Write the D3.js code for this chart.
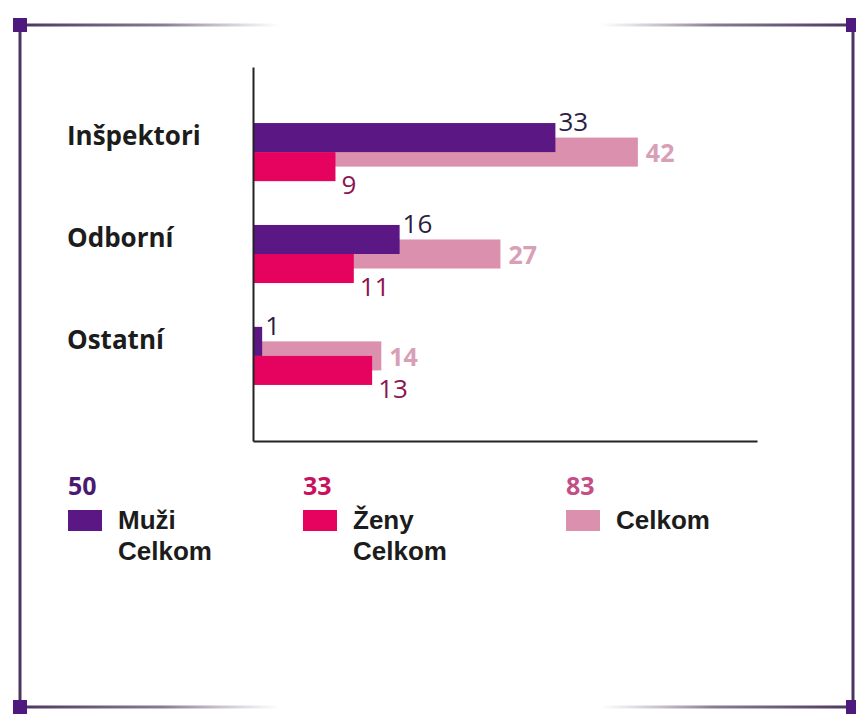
<!DOCTYPE html>
<html>
<head>
<meta charset="utf-8">
<script src="https://cdn.jsdelivr.net/npm/d3@7"></script>
<style>
  html, body { margin: 0; padding: 0; background: #fff; }
  svg { display: block; }
  text { font-family: "Open Sans", "DejaVu Sans", sans-serif; }
  text.caption { font-family: "Liberation Sans", "Open Sans", sans-serif; }
</style>
</head>
<body>
<svg id="chart" width="856" height="714"></svg>
<script>
// Staff by category: men, women and total
const categories = ["Inšpektori", "Odborní", "Ostatní"];
const muzi = [33, 16, 1];
const zeny = [9, 11, 13];
const celkom = [42, 27, 14];
const legendLabels = [["Muži", "Celkom"], ["Ženy", "Celkom"], ["Celkom"]];

const colors = {
  muzi: "#5b1783",
  zeny: "#e5035f",
  celkom: "#db90ae"
};

const svg = d3.select("#chart");

// ---- decorative frame ----
const defs = svg.append("defs");
function fade(id, x1, x2) {
  const g = defs.append("linearGradient").attr("id", id)
    .attr("gradientUnits", "userSpaceOnUse")
    .attr("x1", x1).attr("x2", x2).attr("y1", 0).attr("y2", 0);
  g.append("stop").attr("offset", 0).attr("stop-color", "#4a3560").attr("stop-opacity", 1);
  g.append("stop").attr("offset", 0.55).attr("stop-color", "#6a5a78").attr("stop-opacity", 0.8);
  g.append("stop").attr("offset", 1).attr("stop-color", "#8a7d96").attr("stop-opacity", 0);
}
fade("fadeL", 20, 280);
fade("fadeR", 853, 600);

const frame = svg.append("g");
const fl = 20, fr = 853, ft = 25, fb = 707;
frame.append("line").attr("x1", fl).attr("x2", fl).attr("y1", ft).attr("y2", fb)
  .attr("stroke", "#4a3560").attr("stroke-width", 3);
frame.append("line").attr("x1", fr).attr("x2", fr).attr("y1", ft).attr("y2", fb)
  .attr("stroke", "#4a3560").attr("stroke-width", 3);
[ft, fb].forEach(y => {
  frame.append("rect").attr("x", fl).attr("y", y - 1.5).attr("width", 260).attr("height", 3)
    .attr("fill", "url(#fadeL)");
  frame.append("rect").attr("x", 600).attr("y", y - 1.5).attr("width", fr - 600).attr("height", 3)
    .attr("fill", "url(#fadeR)");
});
[[fl, ft], [fr, ft], [fl, fb], [fr, fb]].forEach(([cx, cy]) => {
  frame.append("rect").attr("x", cx - 7).attr("y", cy - 7).attr("width", 14).attr("height", 14)
    .attr("fill", "#4e1a7e");
});

// ---- scales ----
const x = d3.scaleLinear().domain([0, 55]).range([253, 757]);
const y = d3.scaleBand().domain(categories).range([67, 441])
  .paddingInner(0.43).paddingOuter(0.55);
const bw = y.bandwidth();
const half = bw / 2;

const rows = categories.map((c, i) => ({ cat: c, muzi: muzi[i], zeny: zeny[i], celkom: celkom[i] }));

const plot = svg.append("g");

// total bars sit behind, offset a quarter band down
plot.selectAll("rect.celkom").data(rows).join("rect")
  .attr("class", "celkom")
  .attr("x", x(0)).attr("y", d => y(d.cat) + bw * 0.25)
  .attr("width", d => x(d.celkom) - x(0)).attr("height", half)
  .attr("fill", colors.celkom);

plot.selectAll("rect.muzi").data(rows).join("rect")
  .attr("class", "muzi")
  .attr("x", x(0)).attr("y", d => y(d.cat))
  .attr("width", d => x(d.muzi) - x(0)).attr("height", half)
  .attr("fill", colors.muzi);

plot.selectAll("rect.zeny").data(rows).join("rect")
  .attr("class", "zeny")
  .attr("x", x(0)).attr("y", d => y(d.cat) + half)
  .attr("width", d => x(d.zeny) - x(0)).attr("height", half)
  .attr("fill", colors.zeny);

// value labels
plot.selectAll("text.lm").data(rows).join("text")
  .attr("class", "lm")
  .attr("x", d => x(d.muzi) + 3).attr("y", d => y(d.cat) + 8)
  .attr("font-size", 26).attr("fill", "#2b1d45")
  .text(d => d.muzi);

plot.selectAll("text.lz").data(rows).join("text")
  .attr("class", "lz")
  .attr("x", d => x(d.zeny) + 6).attr("y", d => y(d.cat) + bw + 13)
  .attr("font-size", 26).attr("fill", "#8c1552")
  .text(d => d.zeny);

plot.selectAll("text.lc").data(rows).join("text")
  .attr("class", "lc")
  .attr("x", d => x(d.celkom) + 8).attr("y", d => y(d.cat) + bw * 0.5)
  .attr("dominant-baseline", "central")
  .attr("font-size", 25).attr("font-weight", 700).attr("fill", "#d8a0b6")
  .text(d => d.celkom);

// axes: plain vertical and horizontal lines without ticks
const xAxis = d3.axisBottom(x).tickValues([]).tickSizeOuter(0);
svg.append("g").attr("transform", `translate(0,${y.range()[1]})`).call(xAxis)
  .select(".domain").attr("stroke", "#222").attr("stroke-width", 2);
const yAxis = d3.axisLeft(y).tickValues([]).tickSizeOuter(0);
svg.append("g").attr("transform", `translate(${x(0)},0)`).call(yAxis)
  .select(".domain").attr("stroke", "#222").attr("stroke-width", 2);

// category labels
svg.selectAll("text.cat").data(categories).join("text")
  .attr("class", "cat")
  .attr("x", 67).attr("y", d => y(d) + 22)
  .attr("font-size", 26).attr("font-weight", 700).attr("fill", "#1c1c1c")
  .text(d => d);

// ---- legend ----
const legend = [
  { total: d3.sum(muzi), color: colors.muzi, numColor: "#4b1a70", x: 68, lines: legendLabels[0] },
  { total: d3.sum(zeny), color: colors.zeny, numColor: "#c8125e", x: 303, lines: legendLabels[1] },
  { total: d3.sum(celkom), color: colors.celkom, numColor: "#c34f86", x: 566, lines: legendLabels[2] }
];
const lg = svg.selectAll("g.leg").data(legend).join("g")
  .attr("class", "leg").attr("transform", d => `translate(${d.x},0)`);
lg.append("text").attr("x", 0).attr("y", 495)
  .attr("font-size", 25).attr("font-weight", 700).attr("fill", d => d.numColor)
  .text(d => d.total);
lg.append("rect").attr("x", 0).attr("y", 510).attr("width", 34).attr("height", 21)
  .attr("fill", d => d.color);
// legend captions, wrapped over lines
lg.each(function(d) {
  d3.select(this).selectAll("text.caption").data(d.lines).join("text")
    .attr("class", "caption")
    .attr("x", 50).attr("y", (t, i) => 529 + i * 30.5)
    .attr("font-size", 26).attr("font-weight", 700).attr("fill", "#1c1c1c")
    .text(t => t);
});
</script>
</body>
</html>
